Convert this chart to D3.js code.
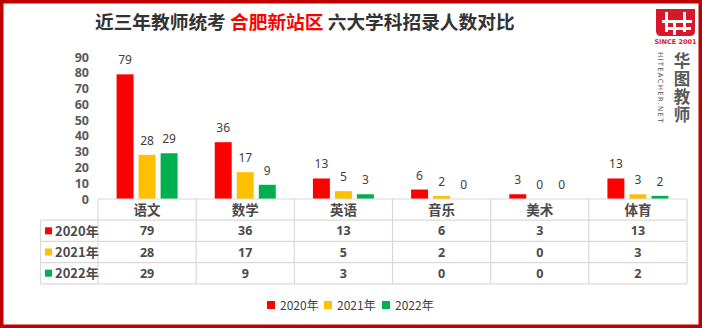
<!DOCTYPE html>
<html>
<head>
<meta charset="utf-8">
<script src="https://cdn.jsdelivr.net/npm/d3@7"></script>
<style>
  body { margin: 0; background: #fff; }
  svg { display: block; font-family: "Noto Sans CJK SC", "Noto Sans", sans-serif; }
</style>
</head>
<body>
<div id="chart"></div>
<script>
const subjects = ['语文', '数学', '英语', '音乐', '美术', '体育'];
const years = ['2020年', '2021年', '2022年'];
const v2020 = [79, 36, 13, 6, 3, 13];
const v2021 = [28, 17, 5, 2, 0, 3];
const v2022 = [29, 9, 3, 0, 0, 2];
const yTicks = [0, 10, 20, 30, 40, 50, 60, 70, 80, 90];
const colors = ['#ff0000', '#ffc000', '#00b050'];

const series = [v2020, v2021, v2022];
const width = 702;
const height = 328;
const plot = { left: 98, right: 687, top: 57, bottom: 199 };
const rowH = 21.2;
const labelLeft = 40.5;

const svg = d3.select('#chart')
  .append('svg')
  .attr('width', width)
  .attr('height', height);

// outer red frame
svg.append('rect')
  .attr('x', 1.75).attr('y', 1.75)
  .attr('width', width - 3.5).attr('height', height - 3.5)
  .attr('fill', '#fff')
  .attr('stroke', '#c00000')
  .attr('stroke-width', 3.5);

// title
const title = svg.append('text')
  .attr('x', 95).attr('y', 29)
  .attr('font-size', 18.7).attr('font-weight', 'bold')
  .attr('fill', '#333');
title.append('tspan').text('近三年教师统考 ');
title.append('tspan').attr('fill', '#ff0000').text('合肥新站区');
title.append('tspan').attr('xml:space', 'preserve').text(' 六大学科招录人数对比');

const x = d3.scaleBand()
  .domain(subjects)
  .range([plot.left, plot.right]);

const xs = d3.scaleBand()
  .domain(d3.range(series.length))
  .range([0, 61])
  .paddingInner(0.23);

const y = d3.scaleLinear()
  .domain([0, 90])
  .range([plot.bottom, plot.top]);

// y axis labels
svg.append('g')
  .attr('transform', 'translate(89,0)')
  .call(d3.axisLeft(y).tickValues(yTicks).tickSize(0).tickPadding(0))
  .call(g => g.select('.domain').remove())
  .selectAll('text')
  .attr('font-size', 12.5)
  .attr('font-weight', 'bold')
  .attr('font-family', '"Noto Sans", sans-serif')
  .attr('fill', '#595959');

// bars
const groups = svg.append('g')
  .selectAll('g')
  .data(series)
  .join('g')
  .attr('fill', (d, i) => colors[i]);

groups.each(function (vals, si) {
  const g = d3.select(this);
  const off = (x.bandwidth() - 61) / 2;
  g.selectAll('rect')
    .data(vals)
    .join('rect')
    .attr('x', (d, i) => x(subjects[i]) + off + xs(si))
    .attr('y', d => y(d))
    .attr('width', xs.bandwidth())
    .attr('height', d => y(0) - y(d));
  g.selectAll('text')
    .data(vals)
    .join('text')
    .attr('x', (d, i) => x(subjects[i]) + off + xs(si) + xs.bandwidth() / 2)
    .attr('y', d => y(d) - 10)
    .attr('text-anchor', 'middle')
    .attr('font-size', 12)
    .attr('font-family', '"Noto Sans", sans-serif')
    .attr('fill', '#404040')
    .text(d => d);
});

// data table
const grid = svg.append('g')
  .attr('stroke', '#d9d9d9')
  .attr('stroke-width', 1.2);

const rowsY = d3.range(series.length + 2).map(i => plot.bottom + i * rowH);
rowsY.forEach((ry, i) => {
  grid.append('line')
    .attr('x1', i === 0 ? plot.left : labelLeft).attr('x2', plot.right)
    .attr('y1', ry).attr('y2', ry);
});
subjects.forEach((s, i) => {
  grid.append('line')
    .attr('x1', x(s)).attr('x2', x(s))
    .attr('y1', plot.bottom).attr('y2', rowsY[rowsY.length - 1]);
});
grid.append('line')
  .attr('x1', plot.right).attr('x2', plot.right)
  .attr('y1', plot.bottom).attr('y2', rowsY[rowsY.length - 1]);
grid.append('line')
  .attr('x1', labelLeft).attr('x2', labelLeft)
  .attr('y1', rowsY[1]).attr('y2', rowsY[rowsY.length - 1]);

// header
svg.append('g')
  .selectAll('text')
  .data(subjects)
  .join('text')
  .attr('x', d => x(d) + x.bandwidth() / 2)
  .attr('y', plot.bottom + rowH / 2 + 5)
  .attr('text-anchor', 'middle')
  .attr('font-size', 13.5)
  .attr('font-weight', 'bold')
  .attr('fill', '#4a4a4a')
  .text(d => d);

// rows
series.forEach((vals, si) => {
  const cy = rowsY[si + 1] + rowH / 2;
  svg.append('rect')
    .attr('x', 45).attr('y', cy - 3.5)
    .attr('width', 7).attr('height', 7)
    .attr('fill', colors[si]);
  svg.append('text')
    .attr('x', 55).attr('y', cy + 5)
    .attr('font-size', 13)
    .attr('font-weight', 'bold')
    .attr('fill', '#4a4a4a')
    .text(years[si]);
  svg.append('g')
    .selectAll('text')
    .data(vals)
    .join('text')
    .attr('x', (d, i) => x(subjects[i]) + x.bandwidth() / 2)
    .attr('y', cy + 4.5)
    .attr('text-anchor', 'middle')
    .attr('font-size', 12.5)
    .attr('font-weight', 'bold')
    .attr('font-family', '"Noto Sans", sans-serif')
    .attr('fill', '#4a4a4a')
    .text(d => d);
});

// legend
const legendX = [267, 324, 382];
const legend = svg.append('g')
  .selectAll('g')
  .data(years)
  .join('g')
  .attr('transform', (d, i) => `translate(${legendX[i]},301)`);
legend.append('rect')
  .attr('width', 8).attr('height', 8)
  .attr('fill', (d, i) => colors[i]);
legend.append('text')
  .attr('x', 13).attr('y', 8.5)
  .attr('font-size', 12)
  .attr('fill', '#404040')
  .text(d => d);

// logo
const logo = svg.append('g');
logo.append('path')
  .attr('d', 'M656,9 H695 V31 Q695,36 690,36 H661 Q656,36 656,31 Z')
  .attr('fill', '#d7182a');
[[665, 12, 3, 20], [683, 12, 3, 20], [662, 20, 30, 3], [667, 27, 24, 3], [673, 22, 3, 13]].forEach(r => {
  logo.append('rect')
    .attr('x', r[0]).attr('y', r[1]).attr('width', r[2]).attr('height', r[3])
    .attr('fill', '#fff');
});
logo.append('text')
  .attr('x', 675.5).attr('y', 44)
  .attr('text-anchor', 'middle')
  .attr('font-size', 6.5)
  .attr('font-weight', 'bold')
  .attr('font-family', '"DejaVu Sans", sans-serif')
  .attr('fill', '#d7182a')
  .text('SINCE 2001');
logo.append('text')
  .attr('x', 682).attr('y', 52)
  .style('writing-mode', 'vertical-rl')
  .attr('font-size', 16.5)
  .attr('letter-spacing', 1.5)
  .attr('font-weight', 'bold')
  .attr('fill', '#5a5a5a')
  .text('华图教师');
logo.append('text')
  .attr('transform', 'translate(658,52) rotate(90)')
  .attr('font-size', 7)
  .attr('font-family', '"DejaVu Sans", sans-serif')
  .attr('letter-spacing', 1.2)
  .attr('fill', '#555')
  .text('HITEACHER.NET');
</script>
</body>
</html>
